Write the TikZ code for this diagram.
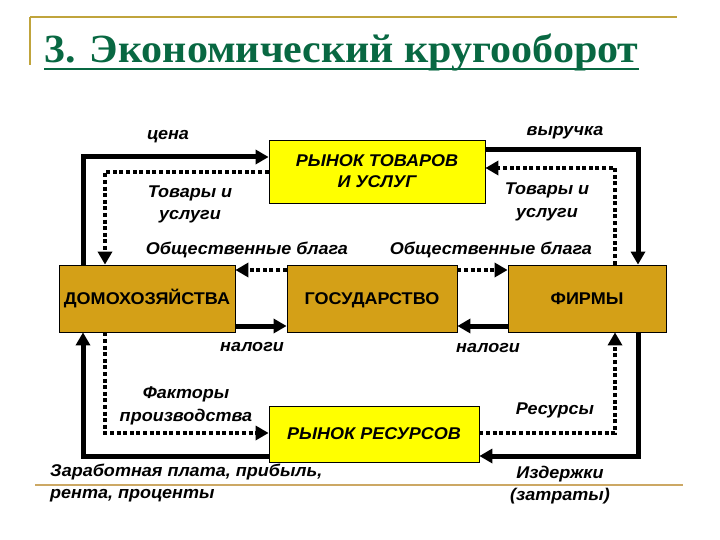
\documentclass[tikz,border=0pt]{standalone}
\usepackage{fontspec}
\setmainfont{Liberation Serif}
\newfontfamily\titlefont[FakeStretch=1.05]{Liberation Serif}
\newfontfamily\labfont[FakeStretch=1.06]{Liberation Sans}
\usetikzlibrary{arrows.meta}
\definecolor{titlegreen}{RGB}{8,104,66}
\definecolor{boxgold}{RGB}{212,160,23}
\definecolor{boxyellow}{RGB}{255,255,0}
\definecolor{ruleolive}{RGB}{192,164,60}
\definecolor{ruletan}{RGB}{204,168,100}
\tikzset{
  box/.style={draw=black, line width=0.8pt, inner sep=0pt, align=center},
  ybox/.style={box, fill=boxyellow, font=\labfont\bfseries\itshape\fontsize{17}{21}\selectfont},
  gbox/.style={box, fill=boxgold, text height=12.2pt, text depth=0pt, font=\labfont\bfseries\fontsize{17}{20}\selectfont},
  lab/.style={inner sep=0pt, align=center, font=\labfont\bfseries\itshape\fontsize{17}{22.5}\selectfont},
  solidarr/.style={line width=5pt, -{Triangle[length=13pt,width=14pt]}},
  dotarr/.style={line width=4.5pt, dash pattern=on 4pt off 2.6pt, -{Triangle[length=13pt,width=14pt]}},
}
\begin{document}
\begin{tikzpicture}[x=1pt,y=-1pt]
\useasboundingbox (0,0) rectangle (720,540);
% frame rules
\draw[ruleolive, line width=1.8pt] (30,17) coordinate (r1) -- (677,17) coordinate (r2);
\draw[ruleolive, line width=1.8pt] (r1) -- (30,65);
\draw[ruletan, line width=2pt] (35,485) -- (683,485);
% title
\node[anchor=base west, inner sep=0pt, text=titlegreen,
      font=\titlefont\bfseries\fontsize{40}{44}\selectfont] (title) at (44,63) {3. Экономический кругооборот};
\draw[titlegreen, line width=2.5pt] (title.base west |- 0,69) -- (title.base east |- 0,69);
% boxes
\node[ybox, minimum width=216pt, minimum height=63pt] (mt) at (377,171.5) {РЫНОК ТОВАРОВ\\И УСЛУГ};
\node[gbox, minimum width=176pt, minimum height=67pt] (hh) at (147,298.5) {ДОМОХОЗЯЙСТВА};
\node[gbox, minimum width=170pt, minimum height=67pt] (gov) at (372,298.5) {ГОСУДАРСТВО};
\node[gbox, minimum width=158pt, minimum height=67pt] (firm) at (587,298.5) {ФИРМЫ};
\node[ybox, minimum width=210pt, minimum height=56pt] (mr) at (374,434) {РЫНОК РЕСУРСОВ};
% corner coordinates
\coordinate (xL) at (83,157);
\coordinate (xR) at (638,150);
\coordinate (xRb) at (638,456);
\coordinate (xLb) at (83,456);
\coordinate (dL) at (105,172);
\coordinate (dR) at (615,168);
\coordinate (dLb) at (105,433);
\coordinate (dRb) at (615,433);
\coordinate (gT) at (0,270);
\coordinate (gB) at (0,326);
% solid flows
\draw[solidarr] (hh.north -| xL) |- (mt.west |- xL);
\draw[solidarr] (mt.east |- xR) -| (firm.north -| xR);
\draw[solidarr] (firm.south -| xRb) |- (mr.east |- xRb);
\draw[solidarr] (mr.west |- xLb) -| (hh.south -| xLb);
\draw[solidarr] (hh.east |- gB) -- (gov.west |- gB);
\draw[solidarr] (firm.west |- gB) -- (gov.east |- gB);
% dotted flows
\draw[dotarr] (mt.west |- dL) -| (hh.north -| dL);
\draw[dotarr] (firm.north -| dR) |- (mt.east |- dR);
\draw[dotarr] (hh.south -| dLb) |- (mr.west |- dLb);
\draw[dotarr] (mr.east |- dRb) -| (firm.south -| dRb);
\draw[dotarr] (gov.west |- gT) -- (hh.east |- gT);
\draw[dotarr] (gov.east |- gT) -- (firm.west |- gT);
% labels
\node[lab] (l1) at (168,137) {цена};
\node[lab] (l2) at (565,133) {выручка};
\node[lab] (l3) at (190,204.5) {Товары и\\услуги};
\node[lab] (l4) at (547,202) {Товары и\\услуги};
\node[lab] (l5) at (247,250) {Общественные блага};
\node[lab] (l6) at (491,250) {Общественные блага};
\node[lab] (l7) at (252,347) {налоги};
\node[lab] (l8) at (488,348) {налоги};
\node[lab] (l9) at (186,406) {Факторы\\производства};
\node[lab] (l10) at (555,410) {Ресурсы};
\node[lab, align=left, anchor=west] (l11) at (50,483) {Заработная плата, прибыль,\\рента, проценты};
\node[lab] (l12) at (560,485) {Издержки\\(затраты)};
\end{tikzpicture}
\end{document}
